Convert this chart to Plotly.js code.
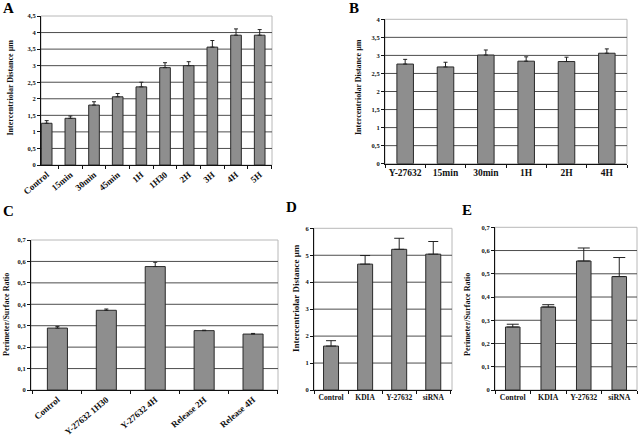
<!DOCTYPE html>
<html>
<head>
<meta charset="utf-8">
<script src="https://cdn.plot.ly/plotly-3.0.1.min.js"></script>
<style>html,body{margin:0;padding:0;background:#fff;}#chart{width:640px;height:441px;}</style>
</head>
<body>
<div id="chart"></div>
<script>
// ---- Data ----
const catsA = ["Control","15min","30min","45min","1H","1H30","2H","3H","4H","5H"];
const valsA = [1.26,1.41,1.81,2.06,2.36,2.94,3.00,3.56,3.92,3.92];
const errA  = [0.08,0.07,0.10,0.10,0.14,0.15,0.12,0.20,0.19,0.17];

const catsB = ["Y-27632","15min","30min","1H","2H","4H"];
const valsB = [2.76,2.68,3.01,2.84,2.83,3.06];
const errB  = [0.13,0.13,0.14,0.12,0.12,0.12];

const catsC = ["Control","Y-27632 1H30","Y-27632 4H","Release 2H","Release 4H"];
const valsC = [0.289,0.372,0.576,0.277,0.261];
const errC  = [0.008,0.006,0.020,0.002,0.003];

const catsD = ["Control","KDIA","Y-27632","siRNA"];
const valsD = [1.63,4.67,5.22,5.04];
const errD  = [0.20,0.32,0.41,0.47];

const catsE = ["Control","KDIA","Y-27632","siRNA"];
const valsE = [0.271,0.357,0.555,0.488];
const errE  = [0.012,0.010,0.056,0.082];

const ticksA = [0,0.5,1,1.5,2,2.5,3,3.5,4,4.5];
const tickTextA = ["0","0,5","1","1,5","2","2,5","3","3,5","4","4,5"];
const ticksB = [0,0.5,1,1.5,2,2.5,3,3.5,4];
const tickTextB = ["0","0,5","1","1,5","2","2,5","3","3,5","4"];
const ticksRatio = [0,0.1,0.2,0.3,0.4,0.5,0.6,0.7];
const tickTextRatio = ["0","0,1","0,2","0,3","0,4","0,5","0,6","0,7"];
const ticksD = [0,1,2,3,4,5,6];
const tickTextD = ["0","1","2","3","4","5","6"];

const titleDist = "Intercentriolar Distance µm";
const titleRatio = "Perimeter/Surface Ratio";

// ---- Styling ----
const FONT = "Liberation Serif, Times New Roman, serif";
const W = 640, H = 441;
const barFill = "#8e8e8e", barLine = "#2a2a2a", gridCol = "#4d4d4d";

function bar(cats, vals, errs, xa, ya, width, capw) {
  return {
    type: "bar", x: cats, y: vals, xaxis: xa, yaxis: ya, width: width,
    marker: {color: barFill, line: {color: barLine, width: 1}},
    error_y: {type: "data", symmetric: false, array: errs, arrayminus: errs.map(() => 0),
              color: "#222", thickness: 1, width: capw},
    showlegend: false, hoverinfo: "skip"
  };
}

function xaxis(px0, px1, anchor, range, angle, fsize) {
  return {
    domain: [px0 / W, px1 / W], anchor: anchor, type: "category", range: range,
    showline: true, linecolor: "#111", linewidth: 1, showgrid: false, zeroline: false,
    ticks: "outside", ticklen: 3, tickcolor: "#111", tickson: "boundaries",
    tickangle: angle, tickfont: {family: FONT, size: fsize, color: "#111", weight: "bold"},
    fixedrange: true
  };
}
function yaxis(py0, py1, anchor, range, tv, tt, fsize) {
  return {
    domain: [1 - py1 / H, 1 - py0 / H], anchor: anchor, range: range,
    tickvals: tv, ticktext: tt,
    showline: true, linecolor: "#111", linewidth: 1,
    showgrid: false, zeroline: false,
    ticks: "outside", ticklen: 3, tickcolor: "#111",
    tickfont: {family: FONT, size: fsize, color: "#111", weight: "bold"},
    fixedrange: true
  };
}

const data = [
  bar(catsA, valsA, errA, "x", "y", 0.45, 2),
  bar(catsB, valsB, errB, "x2", "y2", 0.41, 2),
  bar(catsC, valsC, errC, "x3", "y3", 0.41, 2),
  bar(catsD, valsD, errD, "x4", "y4", 0.44, 5),
  bar(catsE, valsE, errE, "x5", "y5", 0.41, 6)
];

function frame(xr, yr) {
  return {type: "rect", xref: xr + " domain", yref: yr + " domain", x0: 0, x1: 1, y0: 0, y1: 1,
          line: {color: "#b8b8b8", width: 1}, layer: "below"};
}
// interior gridlines (all ticks except the axis bottom and the light top frame line)
function grid(xr, yr, tv) {
  return tv.slice(1, -1).map(v => ({type: "line", xref: xr + " domain", yref: yr, x0: 0, x1: 1, y0: v, y1: v,
          line: {color: gridCol, width: 1}, layer: "below"}));
}
function letter(t, px, py) {
  return {text: t, xref: "paper", yref: "paper", x: px / W, y: 1 - py / H, showarrow: false,
          xanchor: "center", yanchor: "middle", font: {family: FONT, size: 15, color: "#000", weight: "bold"}};
}
function ytitle(t, px, py, fs) {
  return {text: t, xref: "paper", yref: "paper", x: px / W, y: 1 - py / H, showarrow: false,
          textangle: -90, xanchor: "center", yanchor: "middle",
          font: {family: FONT, size: fs, color: "#111", weight: "bold"}};
}

const layout = {
  width: W, height: H, margin: {l: 0, r: 0, t: 0, b: 0},
  paper_bgcolor: "#fff", plot_bgcolor: "rgba(0,0,0,0)",
  showlegend: false,
  xaxis:  xaxis(41, 272, "y", [-0.24, 9.52], -40, 9),
  yaxis:  yaxis(16, 165, "x", [0, 4.5], ticksA, tickTextA, 6.5),
  xaxis2: xaxis(385, 627, "y2", [-0.5, 5.5], 0, 9.5),
  yaxis2: yaxis(19.3, 163.7, "x2", [0, 4], ticksB, tickTextB, 6.5),
  xaxis3: xaxis(31, 278, "y3", [-0.54, 4.51], -40, 9),
  yaxis3: yaxis(240, 390, "x3", [0, 0.7], ticksRatio, tickTextRatio, 6.5),
  xaxis4: xaxis(314, 452, "y4", [-0.5, 3.55], 0, 7.5),
  yaxis4: yaxis(228.3, 390, "x4", [0, 6], ticksD, tickTextD, 6.5),
  xaxis5: xaxis(495, 637, "y5", [-0.5, 3.5], 0, 7.8),
  yaxis5: yaxis(227.3, 390, "x5", [0, 0.7], ticksRatio, tickTextRatio, 6.5),
  shapes: [frame("x","y"), frame("x2","y2"), frame("x3","y3"), frame("x4","y4"), frame("x5","y5")]
    .concat(grid("x","y",ticksA), grid("x2","y2",ticksB), grid("x3","y3",ticksRatio),
            grid("x4","y4",ticksD), grid("x5","y5",ticksRatio)),
  annotations: [
    letter("A", 8, 8), letter("B", 354, 8), letter("C", 8, 211), letter("D", 291, 207), letter("E", 467, 210),
    ytitle(titleDist, 9.5, 88, 8),
    ytitle(titleDist, 358, 87, 8),
    ytitle(titleRatio, 6, 315, 8),
    ytitle(titleDist, 296, 298, 9),
    ytitle(titleRatio, 467, 315, 8)
  ]
};

Plotly.newPlot("chart", data, layout, {staticPlot: true, displayModeBar: false});
</script>
</body>
</html>
